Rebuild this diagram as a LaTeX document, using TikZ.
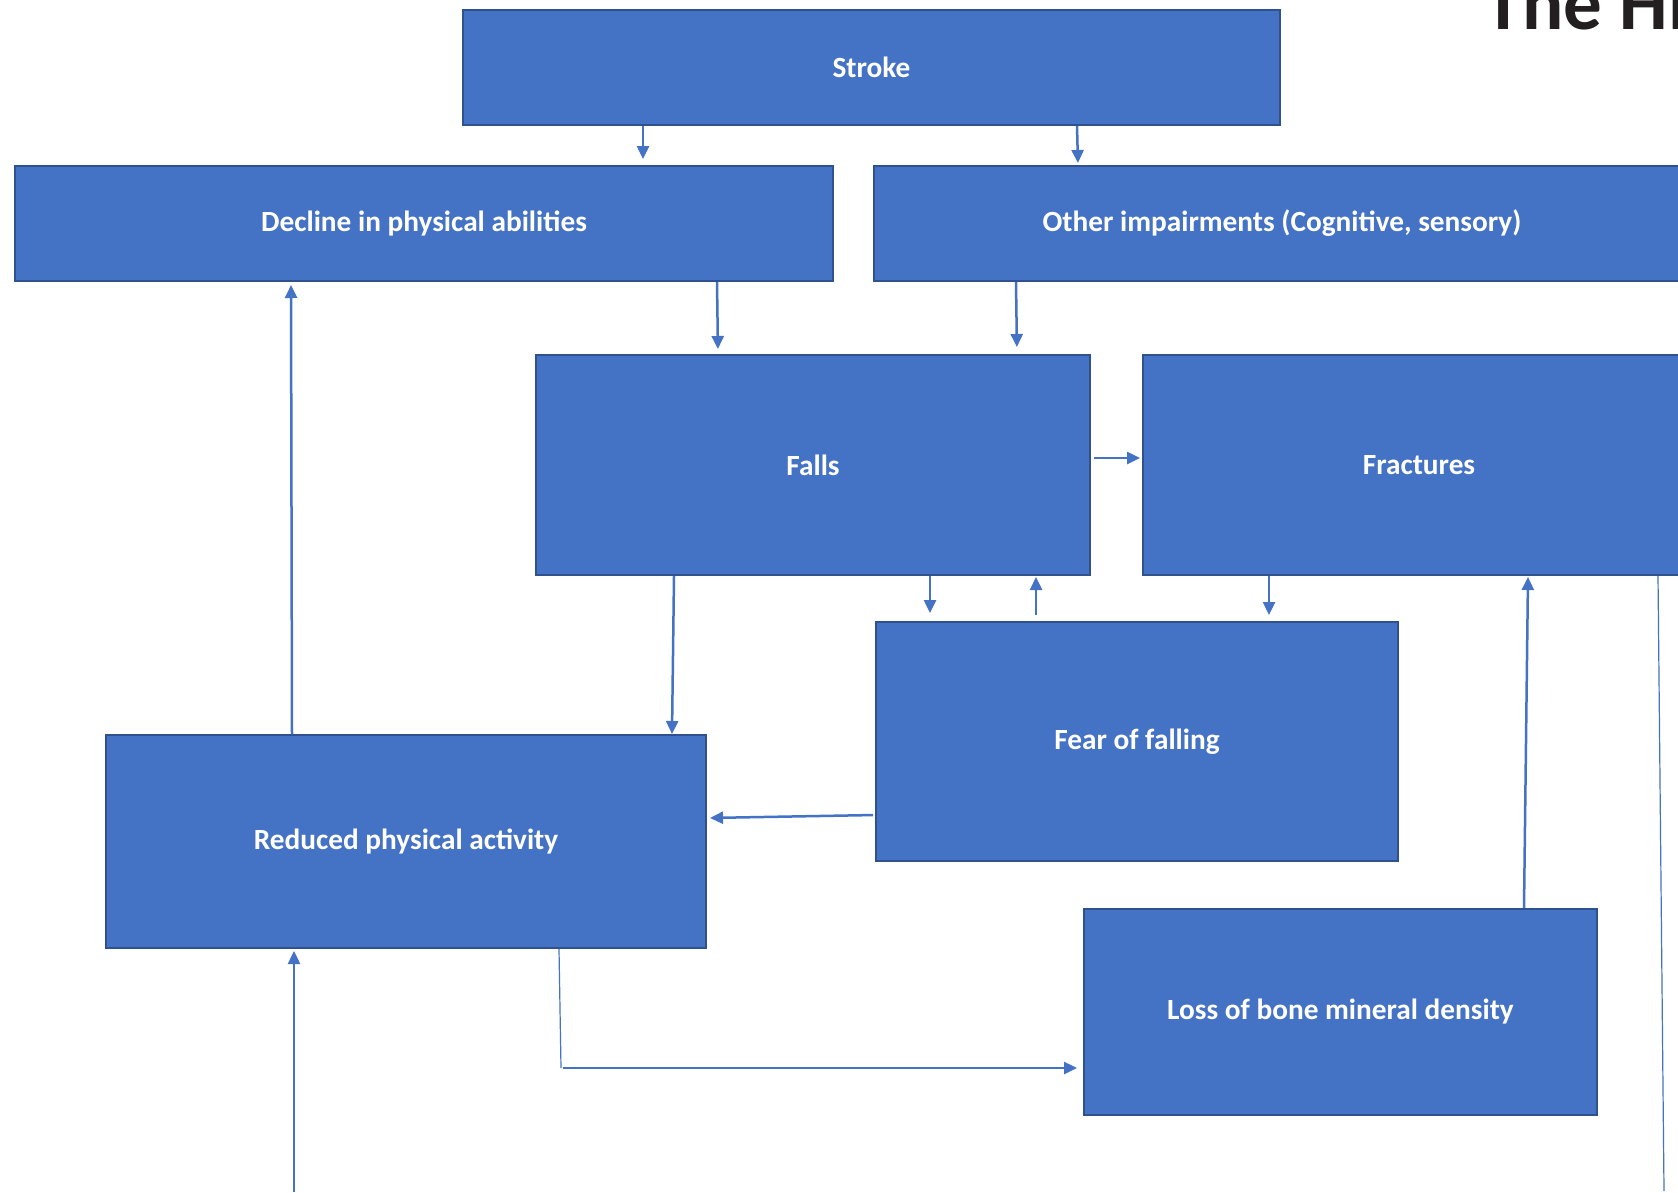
\documentclass[tikz,border=0pt]{standalone}
\usepackage{fontspec}
\setmainfont{Carlito}
\usetikzlibrary{arrows.meta,calc}
\definecolor{boxfill}{HTML}{4472C4}
\definecolor{boxline}{HTML}{2F528F}
\definecolor{arrcol}{HTML}{4472C4}
\definecolor{titlecol}{HTML}{231F20}
\tikzset{
  box/.style={draw=boxline, line width=2pt, fill=boxfill, text=white,
    font=\fontsize{29.3}{34}\selectfont\bfseries, inner sep=0pt, anchor=north west},
  arr/.style={draw=arrcol, line width=2.5pt, -{Triangle[length=13pt,width=12pt]}},
  thin/.style={draw=arrcol, line width=1.2pt},
}
\begin{document}
\begin{tikzpicture}[x=1pt,y=-1pt]
\useasboundingbox (0,0) rectangle (1678,1192);
\clip (0,0) rectangle (1678,1192);
\fill[white] (0,0) rectangle (1678,1192);
% title
\node[anchor=base west, inner sep=0pt, text=titlecol, font=\fontsize{77}{86}\selectfont\bfseries] (title) at (1484,29) {The Hi};
% boxes
\node[box, minimum width=817pt, minimum height=115pt] (stroke) at (462,9) {Stroke};
\node[box, minimum width=818pt, minimum height=115pt] (decline) at (14,165) {Decline in physical abilities};
\node[box, minimum width=816pt, minimum height=115pt] (other) at (873,165) {Other impairments (Cognitive, sensory)};
\node[box, minimum width=554pt, minimum height=220pt] (falls) at (535,354) {Falls};
\node[box, minimum width=552pt, minimum height=220pt] (fract) at (1142,354) {Fractures};
\node[box, minimum width=522pt, minimum height=239pt] (fear) at (875,621) {Fear of falling};
\node[box, minimum width=600pt, minimum height=213pt] (reduced) at (105,734) {Reduced physical activity};
\node[box, minimum width=513pt, minimum height=206pt] (loss) at (1083,908) {Loss of bone mineral density};
% free ends
\coordinate (bottomstart) at (294,1192);
\coordinate (corner) at (561,1068);
\coordinate (rightend) at (1664,1191);
% connectors
\draw[arr, shorten >=6pt] (643,0 |- stroke.south) -- (643,0 |- decline.north);
\draw[arr, shorten >=2pt] (1077,0 |- stroke.south) -- (1078,0 |- other.north);
\draw[arr, shorten >=5pt] (717,0 |- decline.south) -- (718,0 |- falls.north);
\draw[arr, shorten >=7pt] (1016,0 |- other.south) -- (1017,0 |- falls.north);
\draw[arr, shorten <=3pt, shorten >=2pt] (falls.east |- 0,458) -- (fract.west |- 0,458);
\draw[arr, shorten >=8pt] (930,0 |- falls.south) -- (930,0 |- fear.north);
\draw[arr, shorten <=6pt, shorten >=1pt] (1036,0 |- fear.north) -- (1036,0 |- falls.south);
\draw[arr, shorten >=6pt] (1269,0 |- fract.south) -- (1269,0 |- fear.north);
\draw[arr] (674,0 |- falls.south) -- (672,0 |- reduced.north);
\draw[arr, shorten <=2pt, shorten >=3pt] (fear.west |- 0,815) -- (reduced.east |- 0,818);
\draw[arr, shorten >=3pt] (292,0 |- reduced.north) -- (291,0 |- decline.south);
\draw[thin] (559,0 |- reduced.south) -- (corner);
\draw[arr, shorten <=2pt, shorten >=6pt] (corner) -- (loss.west |- corner);
\draw[arr, shorten >=1pt] (1524,0 |- loss.north) -- (1528,0 |- fract.south);
\draw[thin] (1658,0 |- fract.south) -- (rightend);
\draw[arr, shorten >=2pt] (bottomstart) -- (294,0 |- reduced.south);
\end{tikzpicture}
\end{document}
